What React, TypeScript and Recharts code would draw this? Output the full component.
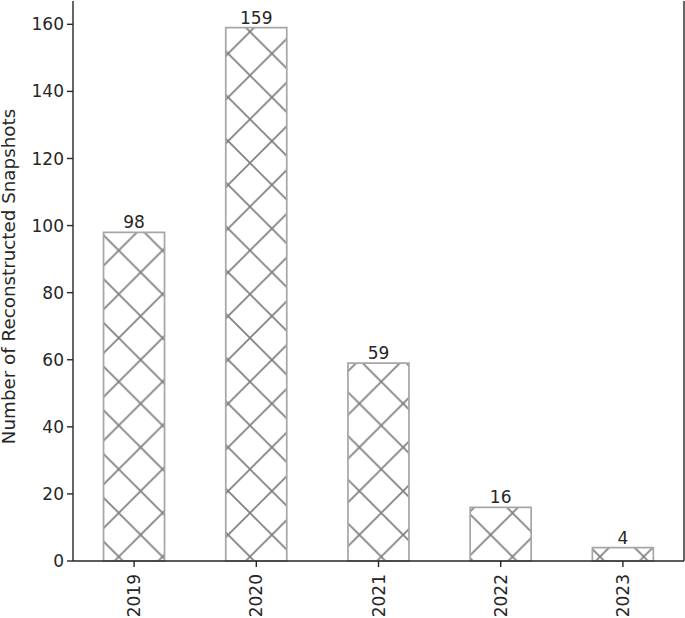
import { BarChart, Bar, XAxis, YAxis, LabelList } from "recharts";

const YEARS = ["2019", "2020", "2021", "2022", "2023"];
const SNAPSHOTS = [98, 159, 59, 16, 4];
const Y_TICKS = [0, 20, 40, 60, 80, 100, 120, 140, 160];
const Y_MAX = 166.95;

const INK = "#262626";
const EDGE = "#a6a6a6";
const HATCH = "#7f7f7f";
const FONT = "DejaVu Sans, sans-serif";

const data = YEARS.map((year, i) => ({ year, count: SNAPSHOTS[i] }));

// crosshatch tile, anchored so crossings land where the reference has them
const P = 43.75;

function YearTick({ x, y, payload }: any) {
  const ty = y + 5;
  return (
    <text x={x} y={ty} transform={`rotate(-90, ${x}, ${ty})`} textAnchor="end" dy="0.36em"
      fill={INK} fontSize={17} fontFamily={FONT}>
      {payload.value}
    </text>
  );
}

export default function App() {
  return (
    <div style={{ position: "absolute", left: 0, top: 0, background: "#fff" }}>
      <BarChart width={685} height={618} data={data} barCategoryGap="25%"
        margin={{ top: 1, right: 0, bottom: 0, left: 0 }}>
        <defs>
          <pattern id="xhatch" patternUnits="userSpaceOnUse" x={250} y={556.7} width={P} height={P}>
            <rect width={P} height={P} fill="#fff" />
            <line x1={0} y1={0} x2={P} y2={P} stroke={HATCH} strokeWidth={1.7} />
            <line x1={0} y1={P} x2={P} y2={0} stroke={HATCH} strokeWidth={1.7} />
          </pattern>
        </defs>
        <text x={15} y={276.5} transform="rotate(-90, 15, 276.5)" textAnchor="middle"
          fill={INK} fontSize={18.3} fontFamily={FONT}>
          Number of Reconstructed Snapshots
        </text>
        <XAxis dataKey="year" height={57} tickSize={6} tick={<YearTick />}
          axisLine={{ stroke: INK, strokeWidth: 1.4 }} tickLine={{ stroke: INK, strokeWidth: 1.4 }} />
        <XAxis xAxisId="top" orientation="top" dataKey="year" height={0} tick={false} tickLine={false}
          axisLine={{ stroke: INK, strokeWidth: 1.4 }} />
        <YAxis width={73} domain={[0, Y_MAX]} ticks={Y_TICKS} tickSize={6} tickMargin={3}
          tick={{ fill: INK, fontSize: 17, fontFamily: FONT }}
          axisLine={{ stroke: INK, strokeWidth: 1.4 }} tickLine={{ stroke: INK, strokeWidth: 1.4 }} />
        <YAxis yAxisId="right" orientation="right" width={1} domain={[0, Y_MAX]} tick={false} tickLine={false}
          axisLine={{ stroke: INK, strokeWidth: 1.4 }} />
        <Bar dataKey="count" fill="url(#xhatch)" stroke={EDGE} strokeWidth={1.7} isAnimationActive={false}>
          <LabelList dataKey="count" position="top" offset={4} fill={INK} fontSize={17} fontFamily={FONT} />
        </Bar>
      </BarChart>
    </div>
  );
}
